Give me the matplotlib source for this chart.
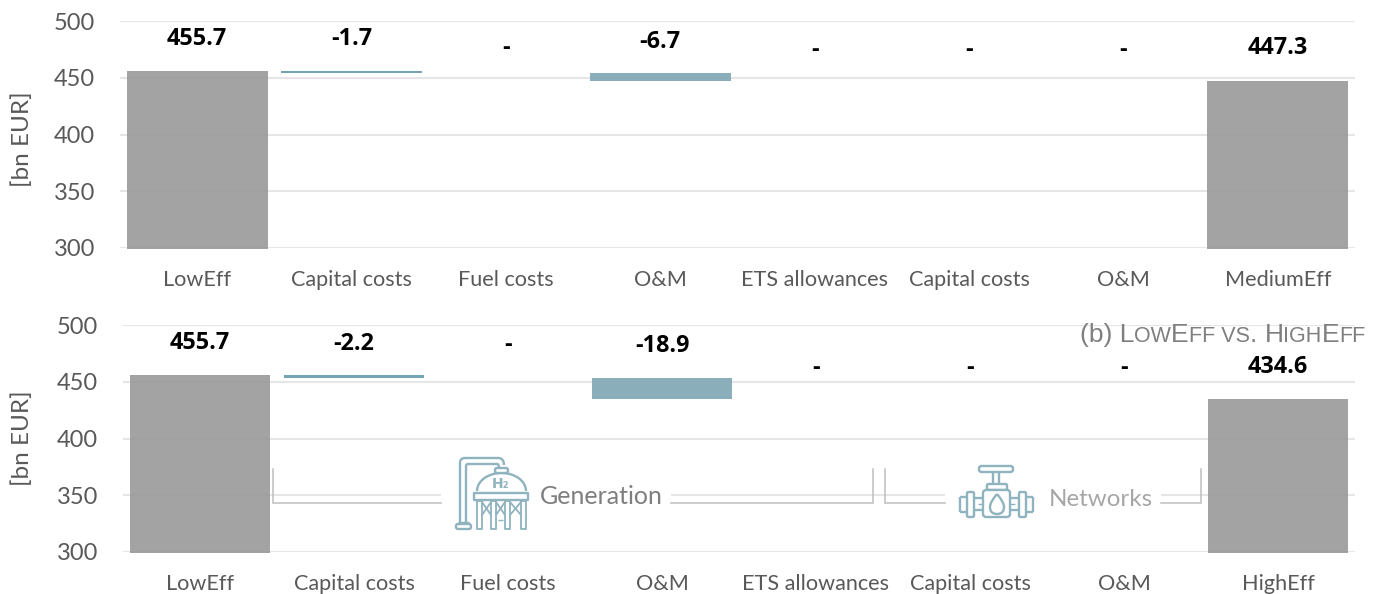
import matplotlib
matplotlib.use("Agg")
import matplotlib.pyplot as plt
from matplotlib.patches import Rectangle, FancyBboxPatch, Arc, PathPatch
from matplotlib.path import Path

W, H = 1381, 594

cats_top = ["LowEff", "Capital costs", "Fuel costs", "O&M", "ETS allowances", "Capital costs", "O&M", "MediumEff"]
cats_bot = ["LowEff", "Capital costs", "Fuel costs", "O&M", "ETS allowances", "Capital costs", "O&M", "HighEff"]
start_top = 455.7
end_top = 447.3
deltas_top = [-1.7, 0, -6.7, 0, 0, 0]
start_bot = 455.7
end_bot = 434.6
deltas_bot = [-2.2, 0, -18.9, 0, 0, 0]
labels_top = ["455.7", "-1.7", "-", "-6.7", "-", "-", "-", "447.3"]
labels_bot = ["455.7", "-2.2", "-", "-18.9", "-", "-", "-", "434.6"]
yticks = [300, 350, 400, 450, 500]

# label heights in data units
label_y_top = [484.2, 484.4, 476, 481.6, 474.5, 474.5, 474.5, 476.2]
label_y_bot = [484.2, 483.6, 482, 481.4, 462, 462, 462, 462.6]

GREY = "#999999"
TEAL = "#84abb8"
TEAL_LINE = "#6b9fad"
GRID = "#e6e6e6"
TXT = "#595959"
FONT = "Lato"

plt.rcParams["font.family"] = [FONT, "DejaVu Sans"]

fig = plt.figure(figsize=(W / 100, H / 100), dpi=100)


def px_axes(x0, x1, ytop, ybot):
    return fig.add_axes([x0 / W, 1 - ybot / H, (x1 - x0) / W, (ybot - ytop) / H])


def waterfall(ax, cats, start, end, deltas, labels, label_y):
    ax.set_xlim(-0.5, 7.5)
    ax.set_ylim(300, 500)
    ax.set_yticks(yticks)
    ax.set_xticks(range(8))
    ax.set_xticklabels(cats, fontsize=15.6, color=TXT)
    ax.tick_params(axis="both", length=0)
    ax.tick_params(axis="x", pad=16)
    ax.tick_params(axis="y", pad=18, labelsize=17, labelcolor=TXT)
    for s in ax.spines.values():
        s.set_visible(False)
    ax.grid(axis="y", color=GRID, lw=1.5, zorder=0)
    ax.set_axisbelow(True)
    ax.patch.set_visible(False)
    ax.set_ylabel("[bn EUR]", fontsize=17.5, color=TXT)
    ax.bar([0, 7], [start - 299, end - 299], bottom=299, width=0.915,
           color=GREY, alpha=0.9, clip_on=False, zorder=2)
    level = start
    for i, d in enumerate(deltas):
        if d != 0:
            col = TEAL_LINE if abs(d) < 3 else TEAL
            ax.bar(i + 1, -d, bottom=level + d, width=0.915, color=col, alpha=0.95, zorder=2)
        level += d
    for i, lab in enumerate(labels):
        ax.text(i, label_y[i], lab, ha="center", va="center", fontsize=16.8,
                fontweight="bold", color="black", zorder=5, family=["Open Sans"])


ax1 = px_axes(120, 1355, 21, 248)
waterfall(ax1, cats_top, start_top, end_top, deltas_top, labels_top, label_y_top)
ax1.yaxis.set_label_coords(-0.0704, 0.48)

ax2 = px_axes(123, 1355, 325, 552)
waterfall(ax2, cats_bot, start_bot, end_bot, deltas_bot, labels_bot, label_y_bot)
ax2.yaxis.set_label_coords(-0.073, 0.5)

# overlay in pixel coordinates for the annotations
ov = fig.add_axes([0, 0, 1, 1], zorder=10)
ov.set_xlim(0, W)
ov.set_ylim(H, 0)
ov.axis("off")
ov.patch.set_visible(False)

# white boxes hide the gridline behind the captions
ov.add_patch(Rectangle((441, 486), 230, 16, fc="white", ec="none"))
ov.add_patch(Rectangle((945, 486), 216, 16, fc="white", ec="none"))

BR = "#bfbfbf"
for xs, ys in [([273, 273, 441], [469, 503, 503]),
               ([671, 873, 873], [503, 503, 469]),
               ([885, 885, 945], [469, 503, 503]),
               ([1161, 1201, 1201], [503, 503, 469])]:
    ov.plot(xs, ys, color=BR, lw=1.1, solid_joinstyle="miter")

ov.text(601, 496, "Generation", ha="center", va="center", fontsize=18, color="#7f7f7f")
ov.text(1100.5, 500, "Networks", ha="center", va="center", fontsize=17.4, color="#a6a6a6")

IC = "#8fb3bf"
LW = 1.7


def ln(xs, ys, lw=LW):
    ov.plot(xs, ys, color=IC, lw=lw, solid_capstyle="butt")


def box(x0, y0, x1, y1, r=1.5, lw=LW, fc="white"):
    ov.add_patch(FancyBboxPatch((x0, y0), x1 - x0, y1 - y0,
                                boxstyle=f"round,pad=0,rounding_size={r}",
                                fc=fc, ec=IC, lw=lw))


# hydrogen tank icon
pipe = Path([(460, 522), (460, 463), (460, 458), (465, 458), (498, 458), (504, 458), (504, 465)],
            [Path.MOVETO, Path.LINETO, Path.CURVE3, Path.CURVE3, Path.LINETO, Path.CURVE3, Path.CURVE3])
ov.add_patch(PathPatch(pipe, fc="none", ec=IC, lw=LW))
pipe2 = Path([(466, 522), (466, 466), (466, 464), (468, 464), (497, 464), (499, 464), (499, 468)],
             [Path.MOVETO, Path.LINETO, Path.CURVE3, Path.CURVE3, Path.LINETO, Path.CURVE3, Path.CURVE3])
ov.add_patch(PathPatch(pipe2, fc="none", ec=IC, lw=LW))
box(456, 524, 471, 529, r=2)
ln([458, 469], [522, 522], lw=1.0)
ov.add_patch(Arc((501.5, 491), 49, 36, theta1=180, theta2=360, ec=IC, lw=LW))
box(495, 468, 508, 473, r=2)
ov.text(501, 484, "H₂", ha="center", va="center", fontsize=10, fontweight="bold",
        color=IC, family=["DejaVu Sans"])
box(474, 493, 528, 500, r=0.5)
for lx in [477, 491, 505, 521]:
    box(lx, 501, lx + 5, 529, r=0.2, lw=1.3)
for x0, x1 in [(482, 491), (496, 505), (510, 521)]:
    ln([x0, x1], [502, 515], lw=1.3)
    ln([x0, x1], [515, 502], lw=1.3)
ln([498, 503], [520, 520], lw=1.0)

# valve icon
box(979, 466, 1013, 472, r=2.5)
ln([993.5, 993.5], [472, 484])
ln([999.5, 999.5], [472, 484])
box(987, 484, 1007, 490, r=1.5)
box(983, 490, 1010, 517, r=3)
drop = Path([(997, 494), (1004, 502), (1004, 507), (1004, 514), (997, 514), (990, 514), (990, 507),
             (990, 502), (997, 494)],
            [Path.MOVETO, Path.CURVE3, Path.CURVE3, Path.CURVE3, Path.CURVE3, Path.CURVE3, Path.CURVE3,
             Path.CURVE3, Path.CURVE3])
ov.add_patch(PathPatch(drop, fc="none", ec=IC, lw=LW))
box(967, 492, 974, 517, r=1.5)
box(1019, 492, 1026, 517, r=1.5)
ln([960, 967], [497, 497])
ln([960, 967], [512, 512])
ln([960, 960], [497, 512])
ln([1026, 1033], [497, 497])
ln([1026, 1033], [512, 512])
ln([1033, 1033], [497, 512])
for yy in [498, 510]:
    ln([974, 983], [yy, yy])
    ln([1010, 1019], [yy, yy])
ln([978, 983], [504, 504], lw=1.0)
ln([1010, 1015], [504, 504], lw=1.0)

# small caps caption, laid out run by run
runs = [("(b) L", 19), ("OW", 15.5), ("E", 19), ("FF VS", 15.5), (". ", 19), ("H", 19), ("IGH", 15.5), ("E", 19), ("FF", 15.5)]
renderer = fig.canvas.get_renderer()
cx = 1080.0
for s, fs in runs:
    t = ov.text(cx, 342, s.replace(" ", "\u00a0"), ha="left", va="baseline", fontsize=fs,
                color="#7f7f7f", family=["Liberation Sans"])
    cx = t.get_window_extent(renderer).x1

fig.savefig("out.png", dpi=100)
